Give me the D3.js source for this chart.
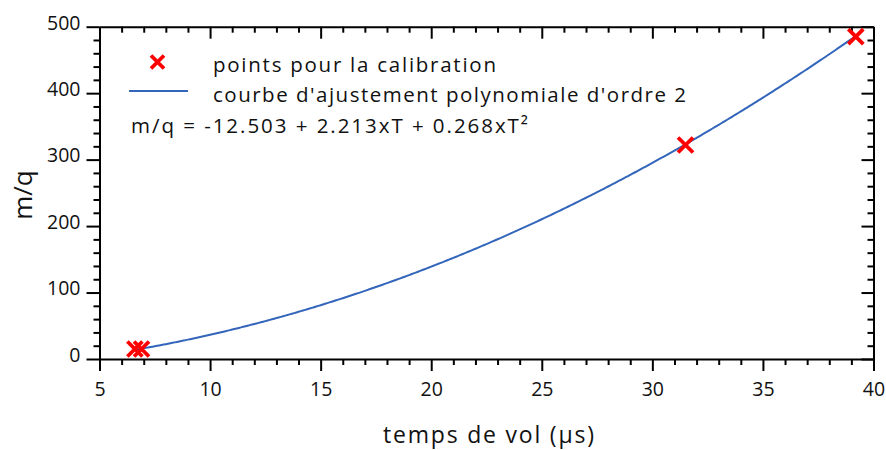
<!DOCTYPE html>
<html>
<head>
<meta charset="utf-8">
<script src="https://cdn.jsdelivr.net/npm/d3@7"></script>
<style>
  html, body { margin: 0; padding: 0; background: #fff; }
  svg { display: block; }
  text { font-family: "Open Sans", "Noto Sans", sans-serif; fill: #111; }
</style>
</head>
<body>
<svg id="chart" width="886" height="450"></svg>
<script>
// Calibration points: time of flight (µs) vs m/q
const flightTimes = [6.6, 6.9, 31.5, 39.2];
const massCharge = [15, 15, 322, 485];

// Quadratic fit coefficients: m/q = c0 + c1*T + c2*T^2
const fitCoeffs = [-12.503, 2.213, 0.268];
const fitRange = [6.6, 39.3];

const xTicks = [5, 10, 15, 20, 25, 30, 35, 40];
const yTicks = [0, 100, 200, 300, 400, 500];

const legendLabels = ["points pour la calibration", "courbe d'ajustement polynomiale d'ordre 2"];
const equationLabel = "m/q = -12.503 + 2.213xT + 0.268xT²";
const xTitle = "temps de vol (µs)";
const yTitle = "m/q";

const svg = d3.select("#chart");
const L = 99.5, R = 873.5, T = 26.7, B = 359;

const x = d3.scaleLinear().domain([5, 40]).range([L, R]);
const y = d3.scaleLinear().domain([0, 500]).range([B, T]);

const xMinor = d3.range(5, 40.001, 1).filter(v => v % 5 !== 0);
const yMinor = d3.range(0, 500.001, 20).filter(v => v % 100 !== 0);

const tickStyle = g => {
  g.selectAll("path").attr("stroke", "#000").attr("stroke-width", 2);
  g.selectAll("line").attr("stroke", "#000").attr("stroke-width", 2);
};

function drawAxis(axisFn, scale, major, minor, transform, majorLen, minorLen, withLabels) {
  const gMinor = svg.append("g").attr("transform", transform)
    .call(axisFn(scale).tickValues(minor).tickSize(minorLen).tickSizeOuter(0).tickFormat(""));
  gMinor.call(tickStyle);
  gMinor.select("path").remove();
  const gMajor = svg.append("g").attr("transform", transform)
    .call(axisFn(scale).tickValues(major).tickSize(majorLen).tickSizeOuter(0)
      .tickFormat(withLabels ? d3.format("d") : ""));
  gMajor.call(tickStyle);
  return gMajor;
}

// bottom and left: ticks outside; top and right: ticks inside
const gx = drawAxis(d3.axisBottom, x, xTicks, xMinor, `translate(0,${B})`, 12, 6, true);
gx.selectAll("text").attr("font-size", 19.5).attr("y", 0).attr("dy", "1.9em").attr("fill", "#111");

const gy = drawAxis(d3.axisLeft, y, yTicks, yMinor, `translate(${L},0)`, 13, 6, true);
gy.selectAll("text").attr("font-size", 19.5).attr("x", -19).attr("dy", "0.12em").attr("fill", "#111");

drawAxis(d3.axisBottom, x, xTicks, xMinor, `translate(0,${T})`, 12, 6, false);
drawAxis(d3.axisLeft, y, yTicks, yMinor, `translate(${R},0)`, 12, 6, false);

// fitted curve
const fit = t => fitCoeffs[0] + fitCoeffs[1] * t + fitCoeffs[2] * t * t;
const curveTs = d3.range(fitRange[0], fitRange[1] + 1e-9, 0.1);
svg.append("path")
  .datum(curveTs)
  .attr("fill", "none")
  .attr("stroke", "#3366bb")
  .attr("stroke-width", 2)
  .attr("d", d3.line().x(t => x(t)).y(t => y(fit(t))));

// calibration points drawn as crosses
const cross = (g, cx, cy, r, w) => {
  g.append("path")
    .attr("d", `M${cx - r},${cy - r}L${cx + r},${cy + r}M${cx - r},${cy + r}L${cx + r},${cy - r}`)
    .attr("stroke", "#ff0000").attr("stroke-width", w).attr("fill", "none");
};
const pts = svg.append("g");
flightTimes.forEach((t, i) => cross(pts, x(t), y(massCharge[i]), 7.5, 3.8));

// legend
const lg = svg.append("g");
cross(lg, 157.5, 62, 6.5, 3.8);
lg.append("line").attr("x1", 129).attr("x2", 188).attr("y1", 91).attr("y2", 91)
  .attr("stroke", "#3366bb").attr("stroke-width", 2);
lg.append("text").attr("x", 213).attr("y", 72).attr("font-size", 20.5)
  .attr("textLength", 283).attr("lengthAdjust", "spacing").text(legendLabels[0]);
lg.append("text").attr("x", 213).attr("y", 102).attr("font-size", 20.5)
  .attr("textLength", 473).attr("lengthAdjust", "spacing").text(legendLabels[1]);
lg.append("text").attr("x", 131).attr("y", 133).attr("font-size", 20.5)
  .attr("textLength", 397).attr("lengthAdjust", "spacing").text(equationLabel);

// axis titles
svg.append("text").attr("x", 383).attr("y", 443)
  .attr("font-size", 23).attr("textLength", 211).attr("lengthAdjust", "spacing").text(xTitle);
svg.append("text").attr("transform", `translate(32,195) rotate(-90)`)
  .attr("text-anchor", "middle").attr("font-size", 26).text(yTitle);
</script>
</body>
</html>
